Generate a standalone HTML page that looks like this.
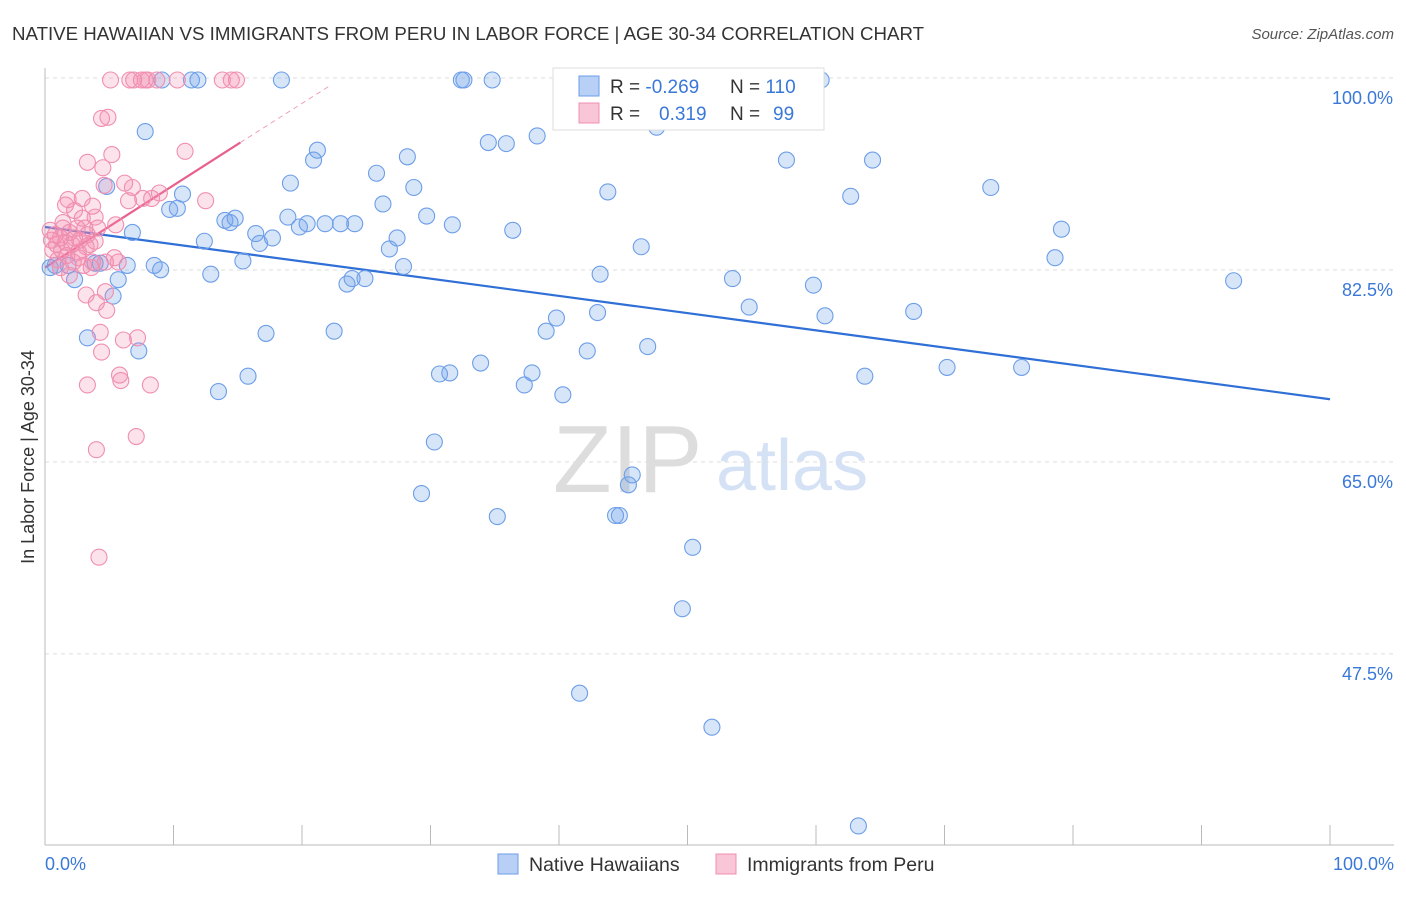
<!DOCTYPE html>
<html><head><meta charset="utf-8"><style>
body{margin:0;background:#fff;font-family:"Liberation Sans",sans-serif}
svg text{font-family:"Liberation Sans",sans-serif}
</style></head><body>
<svg id="chart" width="1406" height="892" viewBox="0 0 1406 892" xmlns="http://www.w3.org/2000/svg">
<text x="12" y="40" font-size="18.7" fill="#333">NATIVE HAWAIIAN VS IMMIGRANTS FROM PERU IN LABOR FORCE | AGE 30-34 CORRELATION CHART</text>
<text x="1394" y="39" font-size="15" fill="#555" font-style="italic" text-anchor="end">Source: ZipAtlas.com</text>
<g>
<text x="553" y="492" font-size="96" fill="#ddd" font-family="Liberation Serif" >ZIP</text>
<text x="716" y="490" font-size="72" fill="#d5e2f5">atlas</text>
</g>
<g id="grid"></g>
<g id="axes"></g>
<g id="trend"></g>
<g id="pts"></g>
<text transform="translate(34,457) rotate(-90)" font-size="18" fill="#333" text-anchor="middle">In Labor Force | Age 30-34</text>
<g>
<rect x="553" y="68" width="271" height="62" fill="#fff" stroke="#ddd"/>
<rect x="579" y="76" width="20" height="20" fill="#b8d0f5" stroke="#6d9ee8"/>
<rect x="579" y="103" width="20" height="20" fill="#f9c6d8" stroke="#f08fb0"/>
<text x="610" y="93" font-size="19" fill="#333">R = <tspan fill="#3a78d8">-0.269</tspan><tspan x="730">N = </tspan><tspan fill="#3a78d8">110</tspan></text>
<text x="610" y="120" font-size="19" fill="#333">R = <tspan fill="#3a78d8" x="659">0.319</tspan><tspan x="730">N = </tspan><tspan fill="#3a78d8" x="773">99</tspan></text>
</g>
<g>
<rect x="498" y="854" width="20" height="20" fill="#b8d0f5" stroke="#6d9ee8"/>
<text x="529" y="871" font-size="19.5" fill="#333">Native Hawaiians</text>
<rect x="716" y="854" width="20" height="20" fill="#f9c6d8" stroke="#f08fb0"/>
<text x="747" y="871" font-size="19.5" fill="#333">Immigrants from Peru</text>
</g>
</svg>
<script>
const yTicks=[100,82.5,65,47.5];
const yTickLabels=["100.0%","82.5%","65.0%","47.5%"];
const xTickLabels=["0.0%","100.0%"];
const blueX=[0.4,0.8,1.8,2.3,3.3,3.9,4.3,4.8,5.3,5.7,6.4,6.8,7.3,7.8,8.5,9.0,9.1,9.7,10.3,10.7,11.4,11.9,12.4,12.9,13.5,14.0,14.4,14.8,15.4,15.8,16.4,16.7,17.2,17.7,18.4,18.9,19.1,19.8,20.4,20.9,21.2,21.8,22.5,23.0,23.5,23.9,24.1,24.9,25.8,26.3,26.8,27.4,27.9,28.2,28.7,29.3,29.7,30.3,30.7,31.5,31.7,32.4,32.6,33.9,34.5,34.8,35.2,35.9,36.4,37.3,37.9,38.3,39.0,39.8,40.3,41.6,42.2,43.0,43.2,43.8,44.4,44.7,45.4,45.7,46.4,46.9,47.6,49.6,50.4,51.9,53.5,54.8,57.7,59.8,60.4,60.7,62.7,63.3,63.8,64.4,67.6,70.2,73.6,76.0,78.6,79.1,92.5];
const blueY=[82.9,83.1,83.1,81.8,76.5,83.3,83.3,90.3,80.3,81.8,83.1,86.1,75.3,95.3,83.1,82.7,100,88.2,88.3,89.6,100,100,85.3,82.3,71.6,87.2,87.0,87.4,83.5,73.0,86.0,85.1,76.9,85.6,100,87.5,90.6,86.6,86.9,92.7,93.6,86.9,77.1,86.9,81.4,81.9,86.9,81.9,91.5,88.7,84.6,85.6,83.0,93.0,90.2,62.3,87.6,67.0,73.2,73.3,86.8,100,100,74.2,94.3,100,60.2,94.2,86.3,72.2,73.3,94.9,77.1,78.3,71.3,44.1,75.3,78.8,82.3,89.8,60.3,60.3,63.1,64.0,84.8,75.7,95.7,51.8,57.4,41.0,81.9,79.3,92.7,81.3,100,78.5,89.4,32.0,73.0,92.7,78.9,73.8,90.2,73.8,83.8,86.4,81.7];
const pinkX=[0.4,0.5,0.6,0.8,0.9,1.0,1.2,1.3,1.4,1.6,1.6,1.7,1.8,1.9,2.1,2.2,2.3,2.5,2.6,2.7,2.9,3.0,3.1,3.2,3.3,3.3,3.5,3.6,3.7,3.7,3.9,4.0,4.0,4.1,4.2,4.3,4.4,4.4,4.5,4.6,4.7,4.7,4.8,4.9,5.1,5.2,5.4,5.5,5.7,5.8,5.9,6.1,6.2,6.5,6.6,6.8,6.9,7.1,7.2,7.5,7.6,7.8,8.0,8.2,8.3,8.7,8.9,10.3,10.9,12.5,13.8,14.5,14.9,1.2,1.4,2.3,2.9,3.3,3.9,1.9,2.6,3.2];
const pinkY=[86.3,85.4,84.5,85.9,85.0,83.6,85.6,84.5,86.5,88.6,85.2,84.0,89.1,86.1,85.0,83.4,85.6,86.5,84.3,85.4,89.2,83.1,86.5,80.4,72.2,92.5,85.0,82.9,88.5,83.4,85.3,66.3,79.7,86.5,56.5,77.0,75.2,96.5,92.0,90.4,83.4,80.7,79.0,96.6,100,93.2,83.8,86.8,83.4,73.1,72.6,76.3,90.6,89.0,100,90.2,100,67.5,76.5,100,89.2,100,100,72.2,89.2,100,89.7,100,93.5,89.0,100,100,100,82.9,87.0,88.1,87.4,85.9,87.5,82.2,83.8,84.8];
const blueTrend=[86.6,70.9];
const pinkTrend=[82.9,94.3,99.5];
const pinkTrendX=[0,15.2,22.2];
const X0=45,X1=1330,YTOP=80,YPER=10.97;
const sx=v=>X0+(X1-X0)*v/100;
const sy=v=>YTOP+(100-v)*YPER;
const NS="http://www.w3.org/2000/svg";
function mk(tag,attrs,parent){const e=document.createElementNS(NS,tag);for(const k in attrs)e.setAttribute(k,attrs[k]);parent.appendChild(e);return e;}
const grid=document.getElementById('grid'),axes=document.getElementById('axes'),trend=document.getElementById('trend'),pts=document.getElementById('pts');
yTicks.forEach((t,i)=>{
 const l=mk('line',{x1:45,x2:1394,y1:sy(t)-2,y2:sy(t)-2,stroke:'#ddd','stroke-dasharray':'4,4'},grid);
 
 
 const tx=mk('text',{x:1393,y:sy(t)+24,'font-size':18,fill:'#3a78d8','text-anchor':'end'},axes);
 tx.textContent=yTickLabels[i];
 
 
});
let a=mk('line',{x1:45,x2:45,y1:68,y2:845,stroke:'#bbb'},axes);


a=mk('line',{x1:45,x2:1394,y1:845,y2:845,stroke:'#bbb'},axes);


for(let i=1;i<=10;i++){const t=mk('line',{x1:sx(i*10),x2:sx(i*10),y1:825,y2:845,stroke:'#bbb'},axes);
 
 }
let xl=mk('text',{x:45,y:870,'font-size':18,fill:'#3a78d8'},axes);xl.textContent=xTickLabels[0];


xl=mk('text',{x:1394,y:870,'font-size':18,fill:'#3a78d8','text-anchor':'end'},axes);xl.textContent=xTickLabels[1];


blueX.forEach((x,i)=>{const c=mk('circle',{cx:sx(x),cy:sy(blueY[i]),r:8,fill:'rgba(110,160,235,0.28)',stroke:'#6d9ee8','stroke-width':1.1},pts);
 
 });
pinkX.forEach((x,i)=>{const c=mk('circle',{cx:sx(x),cy:sy(pinkY[i]),r:8,fill:'rgba(245,140,175,0.25)',stroke:'#f08fb0','stroke-width':1.1},pts);
 
 });
let tl=mk('line',{x1:sx(0),y1:sy(blueTrend[0]),x2:sx(100),y2:sy(blueTrend[1]),stroke:'#2f6fd6','stroke-width':2.2},trend);


tl=mk('line',{x1:sx(pinkTrendX[0]),y1:sy(pinkTrend[0]),x2:sx(pinkTrendX[1]),y2:sy(pinkTrend[1]),stroke:'#e8608e','stroke-width':2.2},trend);


tl=mk('line',{x1:sx(pinkTrendX[1]),y1:sy(pinkTrend[1]),x2:sx(pinkTrendX[2]),y2:sy(pinkTrend[2]),stroke:'#f0a0bb','stroke-width':1,'stroke-dasharray':'5,4'},trend);


</script>
</body></html>
